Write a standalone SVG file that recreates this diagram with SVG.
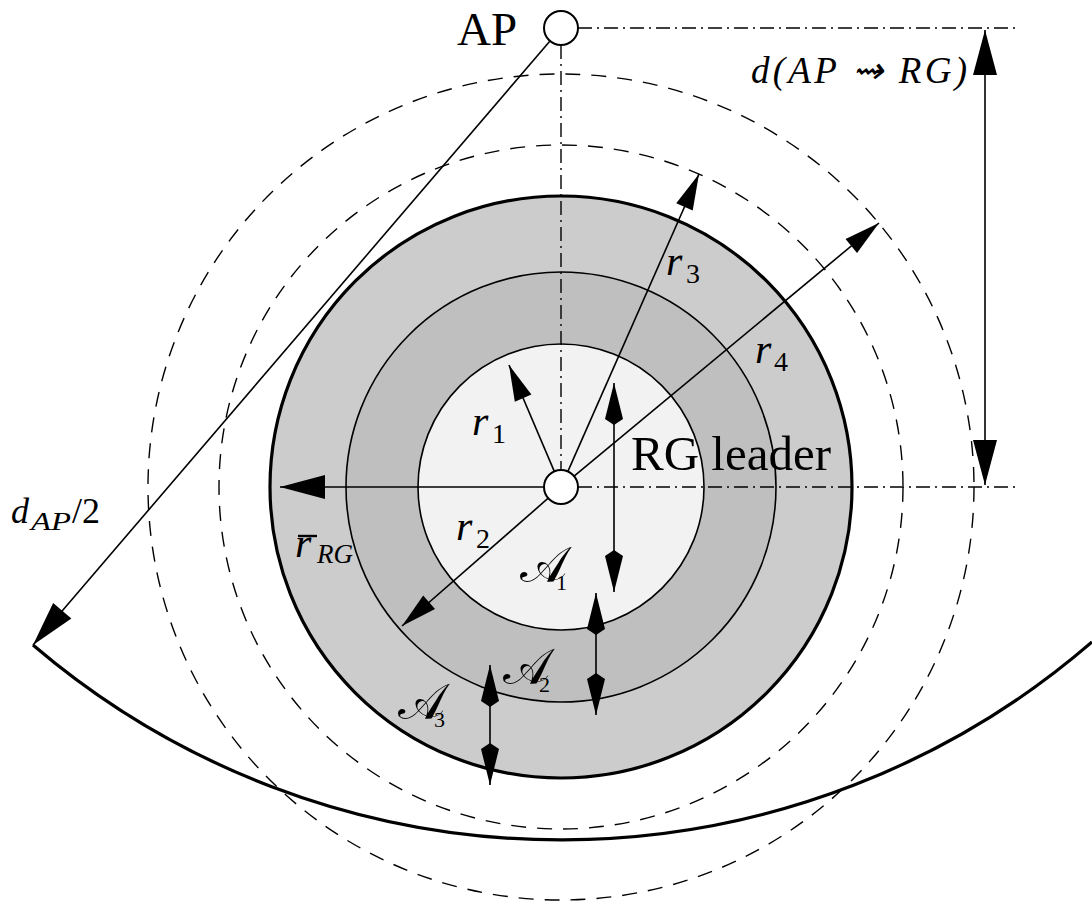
<svg xmlns="http://www.w3.org/2000/svg" width="1092" height="906" viewBox="0 0 1092 906">
<style>
.thin{fill:none;stroke:#000;stroke-width:1.6}
.dash{fill:none;stroke:#000;stroke-width:1.4;stroke-dasharray:15 11}
.dd{fill:none;stroke:#000;stroke-width:1.4;stroke-dasharray:14 5 2 5}
.node{fill:#fff;stroke:#000;stroke-width:2}
.rm{font-family:"Liberation Serif",serif;fill:#000}
.it{font-family:"Liberation Serif",serif;font-style:italic;fill:#000}
.cal{font-family:"DejaVu Serif","Noto Sans","Liberation Serif",serif;fill:#000;font-size:50px}
.sub{font-family:"Liberation Serif",serif;font-size:22px}
</style>
<defs>
<marker id="big" markerUnits="userSpaceOnUse" viewBox="-46 -13 47 26" refX="0" refY="0" markerWidth="47" markerHeight="26" orient="auto-start-reverse">
<path d="M0,0 L-45,-12 L-45,12 Z" fill="#000"/>
</marker>
<marker id="med" markerUnits="userSpaceOnUse" viewBox="-37 -10 38 20" refX="0" refY="0" markerWidth="38" markerHeight="20" orient="auto-start-reverse">
<path d="M0,0 L-36,-9 L-36,9 Z" fill="#000"/>
</marker>
<marker id="kite" markerUnits="userSpaceOnUse" viewBox="-44 -11 45 22" refX="0" refY="0" markerWidth="45" markerHeight="22" orient="auto-start-reverse">
<path d="M0,0 L-36,-9 L-42,0 L-36,9 Z" fill="#000"/>
</marker>
</defs>

<g id="regions">
<circle id="ring3" cx="561" cy="487" r="291" fill="#cccccc" stroke="#000" stroke-width="3.2"/>
<circle id="ring2" cx="561" cy="487" r="215" fill="#bfbfbf" stroke="#000" stroke-width="1.6"/>
<circle id="ring1" cx="561" cy="487" r="143" fill="#f2f2f2" stroke="#000" stroke-width="1.6"/>
</g>

<g id="dashed-circles">
<circle class="dash" cx="561" cy="487" r="342"/>
<circle class="dash" cx="561" cy="487" r="413"/>
</g>

<g id="coverage-arc">
<path d="M33,645 A812,812 0 0 0 1092,642" fill="none" stroke="#000" stroke-width="3.2"/>
</g>

<g id="connectors">
<path class="dd" d="M578,28 H1018"/>
<path class="dd" d="M561,45 V470"/>
<path class="dd" d="M578,487 H1018"/>
<path class="thin" d="M985,30 V485" marker-start="url(#big)" marker-end="url(#big)"/>
<path class="thin" d="M550,41 L33,645" marker-end="url(#big)"/>
<path class="thin" d="M544,487 H280" marker-end="url(#big)"/>
<path class="thin" d="M554.3,471.4 L509,365" marker-end="url(#med)"/>
<path class="thin" d="M567.9,471.4 L699,174" marker-end="url(#med)"/>
<path class="thin" d="M574.1,476.1 L879,223" marker-end="url(#med)"/>
<path class="thin" d="M548.2,498.2 L402,626" marker-end="url(#med)"/>
<path class="thin" d="M614,383 V592" marker-start="url(#kite)" marker-end="url(#kite)"/>
<path class="thin" d="M596,593 V715" marker-start="url(#kite)" marker-end="url(#kite)"/>
<path class="thin" d="M490,665 V785" marker-start="url(#kite)" marker-end="url(#kite)"/>
</g>

<g id="AP">
<circle class="node" cx="561" cy="28" r="17"/>
<text class="rm" x="457" y="45" font-size="47">AP</text>
</g>

<g id="RG-leader">
<circle class="node" cx="561" cy="487" r="17"/>
<text class="rm" x="631" y="470" font-size="49">RG leader</text>
</g>

<g id="labels">
<text class="it" x="751" y="83" font-size="37" textLength="216" lengthAdjust="spacing">d(AP ⇝ RG)</text>
<text class="it" x="11" y="523" font-size="36">d</text>
<text class="it" x="31" y="530" font-size="26" textLength="40" lengthAdjust="spacingAndGlyphs">AP</text>
<text class="rm" x="72" y="523" font-size="36">/2</text>
<text class="it" x="472" y="435" font-size="42">r</text>
<text class="rm" x="492" y="443" font-size="28">1</text>
<text class="it" x="456" y="540" font-size="42">r</text>
<text class="rm" x="476" y="548" font-size="28">2</text>
<text class="it" x="666" y="275" font-size="42">r</text>
<text class="rm" x="686" y="283" font-size="28">3</text>
<text class="it" x="755" y="363" font-size="42">r</text>
<text class="rm" x="774" y="371" font-size="28">4</text>
<path d="M298,536 H317" stroke="#000" stroke-width="2.4"/>
<text class="it" x="295" y="557" font-size="42">r</text>
<text class="it" x="317" y="563" font-size="27">RG</text>
<text class="cal" x="520" y="582">𝒜<tspan class="sub" x="556" dy="8">1</tspan></text>
<text class="cal" x="503" y="684">𝒜<tspan class="sub" x="539" dy="8">2</tspan></text>
<text class="cal" x="398" y="719">𝒜<tspan class="sub" x="434" dy="8">3</tspan></text>
</g>
</svg>
